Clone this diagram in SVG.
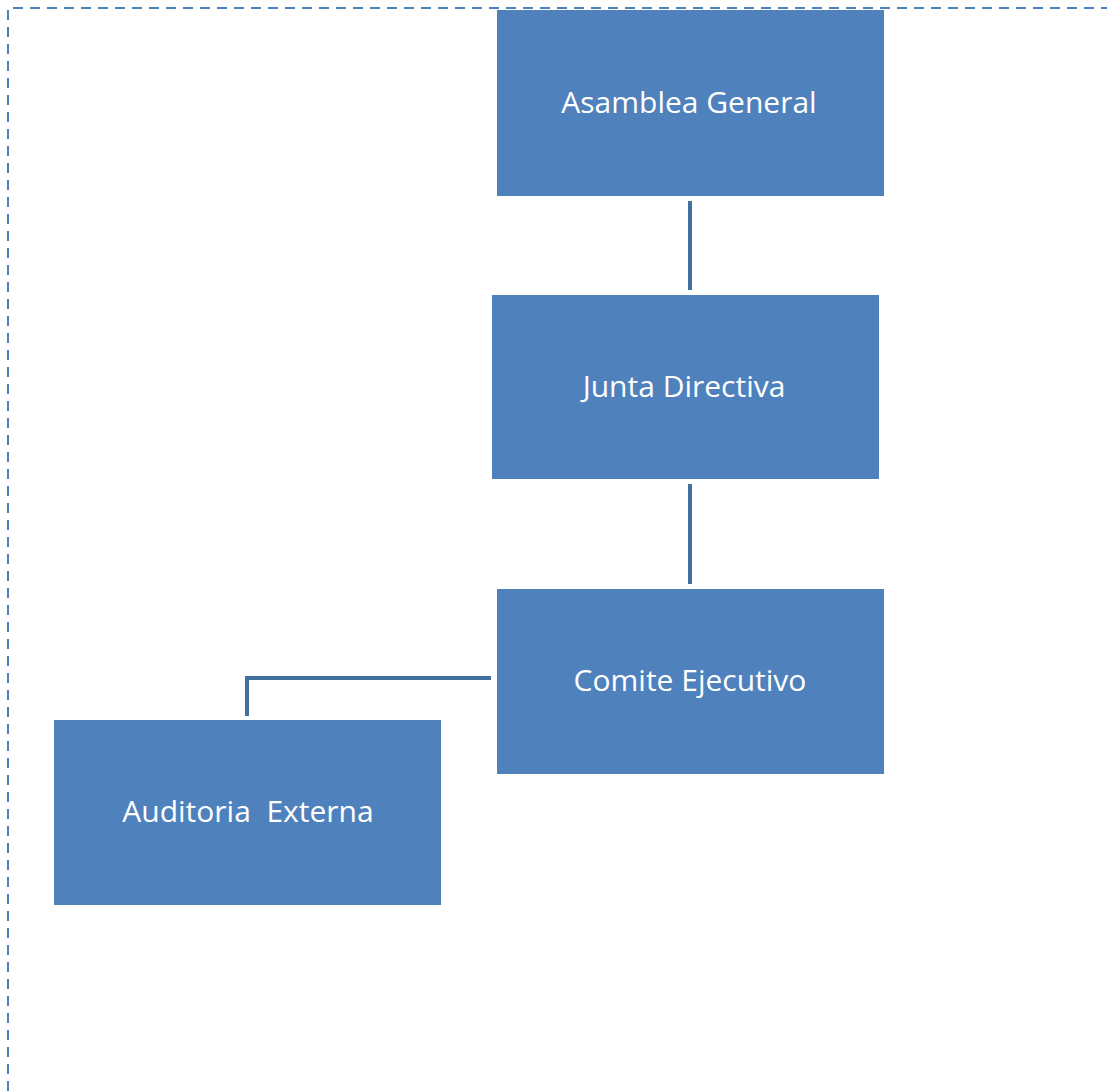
<svg xmlns="http://www.w3.org/2000/svg" width="1107" height="1091" viewBox="0 0 1107 1091">
  <style>
    .box { fill: #4F81BD; }
    .label { fill: #FFFFFF; font-family: "Open Sans", "Liberation Sans", sans-serif; font-size: 30px; text-anchor: middle; }
    .link { fill: none; stroke: #41719C; stroke-width: 4; }
    .frame { fill: none; stroke: #4F81BD; stroke-width: 2; stroke-dasharray: 10 7; }
  </style>
  <rect width="1107" height="1091" fill="#FFFFFF"/>
  <!-- dashed frame around the chart -->
  <path class="frame" d="M8,1091 V8 H1107"/>
  <g id="connectors">
    <line class="link" x1="690" y1="201" x2="690" y2="290"/>
    <line class="link" x1="690" y1="484" x2="690" y2="584"/>
    <polyline class="link" points="491,678 247,678 247,716"/>
  </g>
  <g id="asamblea-general">
    <rect class="box" x="497" y="10" width="387" height="186"/>
    <text class="label" x="689" y="113">Asamblea General</text>
  </g>
  <g id="junta-directiva">
    <rect class="box" x="492" y="295" width="387" height="184"/>
    <text class="label" x="684" y="397">Junta Directiva</text>
  </g>
  <g id="comite-ejecutivo">
    <rect class="box" x="497" y="589" width="387" height="185"/>
    <text class="label" x="690" y="691">Comite Ejecutivo</text>
  </g>
  <g id="auditoria-externa">
    <rect class="box" x="54" y="720" width="387" height="185"/>
    <text class="label" x="248" y="822" xml:space="preserve">Auditoria  Externa</text>
  </g>
</svg>
